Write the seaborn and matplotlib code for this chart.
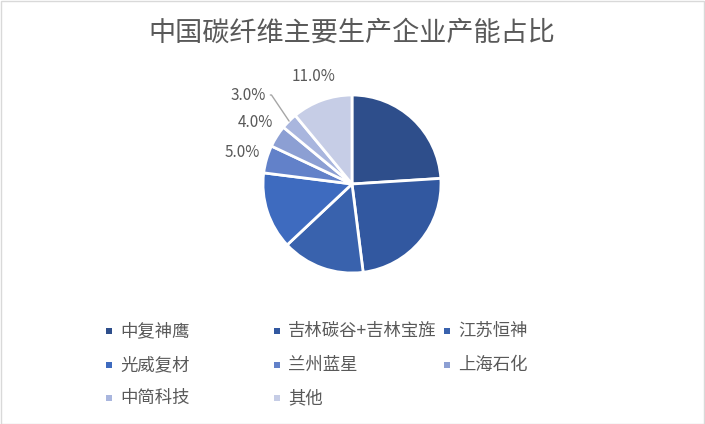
import numpy as np
import matplotlib
matplotlib.use("Agg")
import matplotlib.pyplot as plt
from matplotlib.patches import Rectangle
import seaborn as sns

# data
companies = ["中复神鹰", "吉林碳谷+吉林宝旌", "江苏恒神", "光威复材",
             "兰州蓝星", "上海石化", "中简科技", "其他"]
shares = [24.0, 24.0, 15.0, 14.0, 5.0, 4.0, 3.0, 11.0]
shown_labels = ["", "", "", "", "5.0%", "4.0%", "3.0%", "11.0%"]
hex_colors = ["#2E4E8B", "#3258A0", "#3962AD", "#3E6BBF",
              "#6281C9", "#8C9FD3", "#A9B6DE", "#C6CDE6"]

sns.set_theme(style="white")
plt.rcParams['font.family'] = ['Noto Sans CJK SC', 'DejaVu Sans']
text_color = "#595959"
palette = sns.color_palette(hex_colors)

W, H = 705, 424
fig = plt.figure(figsize=(W / 100, H / 100), dpi=100)
fig.patch.set_facecolor("white")

# thin frame round the chart area
fig.patches.append(Rectangle((0.5 / W, 0.5 / H), 1 - 1.5 / W, 1 - 1.5 / H,
                             transform=fig.transFigure, fill=False,
                             edgecolor="#D9D9D9", linewidth=1))

fig.text(352 / W, 1 - 33 / H, "中国碳纤维主要生产企业产能占比",
         ha="center", va="center", fontsize=19.5, color=text_color)

# pie axes: centre (352,184) px, radius 89 px
cx, cy, r = 352, 184, 89
half = 1.5 * r
ax = fig.add_axes([(cx - half) / W, (H - cy - half) / H, 2 * half / W, 2 * half / H])
wedges, _ = ax.pie(shares, colors=palette, startangle=90, counterclock=False,
                   wedgeprops=dict(edgecolor="white", linewidth=2))
ax.set_xlim(-1.5, 1.5)
ax.set_ylim(-1.5, 1.5)
ax.set_aspect("equal")
ax.axis("off")

for w, lab in zip(wedges, shown_labels):
    if not lab:
        continue
    mid = np.deg2rad((w.theta1 + w.theta2) / 2)
    if lab == "3.0%":
        edge = (np.cos(mid), np.sin(mid))
        ax.annotate(lab, xy=edge, xytext=(-0.97, 1.0), ha="right", va="center",
                    fontsize=11, color=text_color,
                    arrowprops=dict(arrowstyle="-", color="#A6A6A6", lw=1,
                                    shrinkA=1, shrinkB=0,
                                    connectionstyle="angle,angleA=0,angleB=124,rad=0"))
    else:
        rr = 1.28
        ax.text(rr * np.cos(mid), rr * np.sin(mid), lab, ha="center", va="center",
                fontsize=11, color=text_color)

# legend laid out in three columns like the reference
col_x = [109, 277, 447]
row_y = [331, 365, 398]
sq = 6
for i, (name, col) in enumerate(zip(companies, palette)):
    x = col_x[i % 3]
    y = row_y[i // 3]
    fig.patches.append(Rectangle(((x - sq / 2) / W, (H - y - sq / 2) / H), sq / W, sq / H,
                                 transform=fig.transFigure, facecolor=col,
                                 edgecolor="none"))
    fig.text((x + 11) / W, 1 - y / H, name, ha="left", va="center",
             fontsize=12.5, color=text_color)

fig.savefig("out.png", dpi=100)
